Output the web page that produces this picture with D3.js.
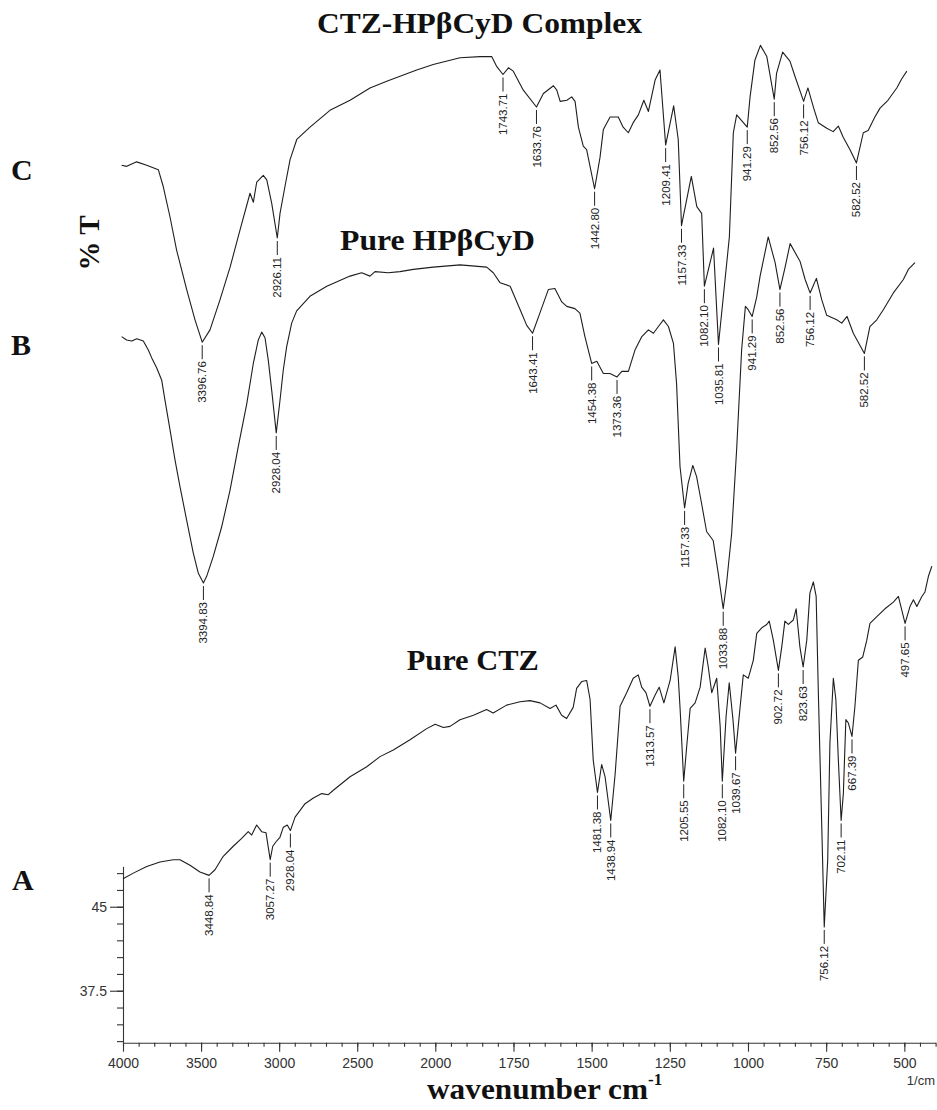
<!DOCTYPE html>
<html>
<head>
<meta charset="utf-8">
<script src="https://cdn.jsdelivr.net/npm/d3@7"></script>
<style>
  body { margin: 0; background: #fff; }
  svg { display: block; }
</style>
</head>
<body>
<svg id="chart" width="937" height="1110"></svg>
<script>
// FTIR spectra: [wavenumber (cm-1), %T] pairs, listed from high to low wavenumber.
const complexSpectrum = [
  [3902,51.2],[3870,51.1],[3808,51.5],[3745,51.2],[3672,50.8],[3641,49.3],[3599,46.6],[3557,43.6],
  [3494,40.1],[3442,37.4],[3396.76,35.4],[3348,36.5],[3285,39.2],[3222,42.1],[3160,45.4],[3097,48.7],
  [3076,47.9],[3055,49.7],[3014,50.3],[2992,49.9],[2961,47.8],[2926.11,44.7],[2909,46.9],[2878,49.3],
  [2846,51.7],[2804,53.5],[2721,54.6],[2596,56.1],[2470,57.0],[2345,58.1],[2240,58.7],[2052,59.7],
  [1973,60.2],[1885,60.8],[1819,60.9],[1781,60.9],[1764,60.0],[1743.71,59.3],[1726,59.9],[1710,59.6],
  [1677,57.9],[1633.76,56.4],[1611,57.6],[1578,58.3],[1567,57.9],[1556,56.9],[1534,57.0],[1518,57.3],
  [1507,56.9],[1496,54.6],[1480,52.9],[1469,52.6],[1442.80,49.1],[1425,51.9],[1414,54.4],[1392,55.5],
  [1365,55.5],[1349,54.6],[1332,54.1],[1316,55.0],[1299,55.7],[1281,57.0],[1266,56.0],[1244,58.8],
  [1228,59.7],[1209.41,53.0],[1183,56.5],[1168,53.5],[1157.33,45.8],[1125,50.2],[1107,47.5],[1091,46.9],
  [1082.10,40.4],[1052,43.8],[1035.81,35.2],[1000,44.8],[987,54.1],[976,55.7],[941.29,54.6],[932,57.3],
  [916,60.6],[898,61.9],[877,60.9],[852.56,57.1],[845,59.4],[825,61.3],[801,60.5],[784,59.1],
  [756.12,56.9],[742,58.1],[723,56.3],[708,55.0],[680,54.5],[659,54.2],[642,54.7],[626,53.7],
  [604,52.6],[582.52,51.4],[560,54.1],[544,54.3],[522,55.5],[505,56.3],[479,57.0],[450,58.1],
  [434,58.9],[417,59.6]
];

const hpbcydSpectrum = [
  [3919,60.9],[3887,60.6],[3854,60.5],[3822,60.7],[3780,60.5],[3748,59.7],[3726,59.0],[3694,58.1],
  [3662,57.0],[3641,55.2],[3609,52.6],[3577,49.9],[3545,47.5],[3502,44.5],[3460,41.6],[3428,39.8],
  [3394.83,38.9],[3374,39.5],[3331,41.3],[3278,43.9],[3224,47.2],[3171,51.1],[3117,54.9],[3075,58.5],
  [3043,60.6],[3021,61.3],[3000,60.8],[2979,58.8],[2957,56.1],[2928.04,52.3],[2904,55.2],[2883,57.9],
  [2861,60.0],[2829,62.1],[2797,63.2],[2712,64.5],[2604,65.4],[2455,66.3],[2380,66.6],[2327,66.3],
  [2295,66.7],[2210,66.6],[2135,66.7],[2049,66.9],[1961,67.1],[1875,67.3],[1790,67.1],[1769,66.6],
  [1747,65.7],[1715,65.4],[1683,63.3],[1662,61.9],[1643.41,61.2],[1620,63.0],[1593,65.1],[1572,65.2],
  [1550,64.0],[1534,63.6],[1508,63.4],[1492,63.0],[1476,60.9],[1454.38,58.5],[1438,58.7],[1417,57.6],
  [1396,57.6],[1373.36,57.3],[1358,57.8],[1337,57.8],[1316,59.7],[1294,60.9],[1273,61.5],[1257,61.2],
  [1241,61.8],[1225,62.4],[1209,61.8],[1193,60.3],[1183,56.7],[1172,49.3],[1157.33,45.6],[1146,47.8],
  [1131,49.4],[1119,48.4],[1103,46.0],[1087,43.5],[1066,42.7],[1050,39.8],[1033.88,36.6],[1023,38.9],
  [1007,43.3],[991,50.8],[975,59.7],[963,63.6],[954,63.3],[941.29,62.7],[927,64.4],[916,66.3],
  [890,69.8],[868,67.5],[852.56,65.1],[836,67.1],[820,69.2],[788,67.6],[772,66.0],[756.12,64.8],
  [736,66.1],[719,64.2],[703,62.8],[671,62.4],[655,62.1],[638,62.7],[618,61.2],[582.52,59.4],
  [565,61.8],[543,62.4],[522,63.3],[490,64.8],[458,66.0],[442,66.9],[421,67.5]
];

const ctzSpectrum = [
  [4000,47.5],[3934,48.0],[3848,48.6],[3763,49.0],[3678,49.2],[3635,49.2],[3571,48.7],[3507,48.1],
  [3448.84,47.8],[3411,48.3],[3358,49.5],[3294,50.4],[3240,51.1],[3198,51.7],[3176,51.4],[3144,52.3],
  [3112,51.7],[3084,51.6],[3057.27,49.2],[3041,50.4],[3020,50.8],[2995,51.2],[2973,52.1],[2948,52.3],
  [2928.04,51.8],[2898,53.0],[2866,53.6],[2834,54.2],[2781,54.7],[2727,55.1],[2685,55.0],[2653,55.4],
  [2546,56.6],[2439,57.5],[2354,58.4],[2269,59.0],[2162,59.9],[2055,60.9],[2001,61.3],[1974,61.0],
  [1953,61.1],[1921,61.7],[1878,62.1],[1836,62.6],[1815,62.3],[1772,63.0],[1729,63.3],[1697,63.4],
  [1665,63.2],[1633,62.7],[1614,63.0],[1596,62.1],[1580,61.8],[1559,62.8],[1548,64.5],[1532,65.1],
  [1516,65.2],[1505,63.5],[1495,58.1],[1481.38,55.2],[1468,57.7],[1457,56.6],[1438.94,52.7],[1425,56.8],
  [1409,62.9],[1388,64.1],[1367,65.4],[1351,65.7],[1340,64.6],[1326,64.1],[1313.57,62.9],[1297,63.9],
  [1284,64.6],[1269,63.2],[1249,65.2],[1233,68.2],[1223,65.5],[1217,62.6],[1205.55,56.2],[1196,59.3],
  [1185,62.7],[1169,63.2],[1153,64.6],[1137,68.1],[1127,66.4],[1116,64.1],[1100,65.4],[1089,61.1],
  [1082.10,56.2],[1070,62.0],[1060,65.0],[1048,61.7],[1039.67,58.7],[1026,62.6],[1015,65.7],[999,65.4],
  [983,67.0],[972,69.4],[956,69.9],[940,70.2],[932,70.5],[919,68.8],[902.72,66.1],[892,68.2],
  [882,70.5],[871,70.2],[855,70.6],[846,71.6],[834,68.2],[823.63,66.4],[812,68.8],[802,73.0],
  [791,74.0],[782,72.7],[775,64.1],[764,52.1],[756.12,43.2],[745,49.2],[738,59.6],[727,65.4],
  [719,63.5],[711,58.1],[702.11,52.7],[695,55.1],[687,61.7],[679,61.4],[667.39,60.2],[658,62.9],
  [647,67.0],[633,67.3],[620,68.8],[610,70.3],[588,70.9],[562,71.6],[535,72.2],[519,72.7],
  [497.65,70.3],[482,71.8],[471,72.4],[460,71.8],[444,72.7],[434,73.1],[423,74.5],[412,75.4]
];

// Labelled band positions (cm-1)
const complexPeaks = [3396.76, 2926.11, 1743.71, 1633.76, 1442.80, 1209.41, 1157.33, 1082.10, 1035.81, 941.29, 852.56, 756.12, 582.52];
const hpbcydPeaks  = [3394.83, 2928.04, 1643.41, 1454.38, 1373.36, 1157.33, 1033.88, 941.29, 852.56, 756.12, 582.52];
const ctzPeaks     = [3448.84, 3057.27, 2928.04, 1481.38, 1438.94, 1313.57, 1205.55, 1082.10, 1039.67, 902.72, 823.63, 756.12, 702.11, 667.39, 497.65];

// Vertical stacking offsets (%T units) for the upper traces
const complexOffset = 60;
const hpbcydOffset = 35;

// Axis ticks
const xTickLabels = [4000, 3500, 3000, 2500, 2000, 1750, 1500, 1250, 1000, 750, 500];
const yTickLabels = [45, 37.5];

const svg = d3.select("#chart");
const serif = "'Liberation Serif', 'Times New Roman', serif";
const sans = "'Liberation Sans', Arial, sans-serif";

// Wavenumber axis is compressed by half above 2000 cm-1
const xCtz     = d3.scaleLinear().domain([4000, 2000, 400]).range([123, 435.3, 935.6]);
const xHpbcyd  = d3.scaleLinear().domain([4000, 2000, 400]).range([109, 421, 921.5]);
const xComplex = d3.scaleLinear().domain([4000, 2000, 400]).range([106, 425, 912]);
const y = d3.scaleLinear().domain([32.86, 48.6]).range([1042.7, 866.4]);

// ---- axes ----
const minorX = d3.range(4000, 2000, -100).concat(d3.range(2000, 399, -50));
const axisColor = "#333";

const gx = svg.append("g").attr("transform", `translate(0,${y.range()[0]})`);
gx.call(d3.axisBottom(xCtz).tickValues(minorX).tickSize(4).tickSizeOuter(0).tickFormat(""));
const gxMajor = svg.append("g").attr("transform", `translate(0,${y.range()[0]})`);
gxMajor.call(d3.axisBottom(xCtz).tickValues(xTickLabels).tickSize(9).tickSizeOuter(0).tickPadding(6).tickFormat(d3.format("d")));
gxMajor.select(".domain").remove();

const gy = svg.append("g").attr("transform", `translate(${xCtz(4000)},0)`);
gy.call(d3.axisLeft(y).tickValues(d3.range(33, 48.1, 1.5)).tickSize(6).tickSizeOuter(0).tickFormat(""));
const gyMajor = svg.append("g").attr("transform", `translate(${xCtz(4000)},0)`);
gyMajor.call(d3.axisLeft(y).tickValues(yTickLabels).tickSize(13).tickSizeOuter(0).tickPadding(3).tickFormat(d => String(d)));
gyMajor.select(".domain").remove();

svg.selectAll(".domain, .tick line").attr("stroke", axisColor).attr("stroke-width", 1.1);
svg.selectAll(".tick text").attr("fill", "#333").style("font-family", sans).style("font-size", "14px");

svg.append("text")
  .attr("x", 935).attr("y", 1085).attr("text-anchor", "end")
  .style("font-family", sans).style("font-size", "13px").attr("fill", "#333")
  .text("1/cm");

// ---- spectra ----
const traces = [
  { data: complexSpectrum, peaks: complexPeaks, x: xComplex, offset: complexOffset },
  { data: hpbcydSpectrum,  peaks: hpbcydPeaks,  x: xHpbcyd,  offset: hpbcydOffset },
  { data: ctzSpectrum,     peaks: ctzPeaks,     x: xCtz,     offset: 0 }
];

traces.forEach(t => {
  const line = d3.line().x(d => t.x(d[0])).y(d => y(d[1] + t.offset));
  svg.append("path")
    .datum(t.data)
    .attr("d", line)
    .attr("fill", "none")
    .attr("stroke", "#1e1e1e")
    .attr("stroke-width", 1.1)
    .attr("stroke-linejoin", "round");

  const labels = svg.append("g");
  t.peaks.forEach(p => {
    const pt = t.data.find(d => d[0] === p);
    const px = t.x(p);
    const py = y(pt[1] + t.offset);
    labels.append("line")
      .attr("x1", px).attr("x2", px)
      .attr("y1", py + 3).attr("y2", py + 17)
      .attr("stroke", "#222").attr("stroke-width", 1);
    labels.append("text")
      .attr("transform", `translate(${px},${py + 19}) rotate(-90)`)
      .attr("text-anchor", "end")
      .attr("dy", "0.35em")
      .style("font-family", sans)
      .style("font-size", "11.5px")
      .attr("fill", "#222")
      .text(p.toFixed(2));
  });
});

// ---- titles and annotations ----
function boldText(txt, x, y0, size, len) {
  const t = svg.append("text")
    .attr("x", x).attr("y", y0)
    .style("font-family", serif).style("font-weight", "bold")
    .style("font-size", size + "px").attr("fill", "#111")
    .text(txt);
  if (len) t.attr("textLength", len).attr("lengthAdjust", "spacingAndGlyphs");
  return t;
}

boldText("CTZ-HPβCyD Complex", 317, 33, 29, 325);
boldText("Pure HPβCyD", 340, 250, 29, 195);
boldText("Pure CTZ", 406.7, 670, 29, 132);

boldText("C", 11, 180, 30);
boldText("B", 11, 355, 30);
boldText("A", 12, 890, 30);

svg.append("text")
  .attr("transform", "translate(99,243) rotate(-90)")
  .attr("text-anchor", "middle")
  .style("font-family", serif).style("font-weight", "bold")
  .style("font-size", "29px").attr("fill", "#111")
  .text("% T");

const xt = svg.append("text")
  .attr("x", 427).attr("y", 1099)
  .style("font-family", serif).style("font-weight", "bold")
  .style("font-size", "29px").attr("fill", "#111");
xt.append("tspan").attr("textLength", 221).attr("lengthAdjust", "spacingAndGlyphs").text("wavenumber cm");
xt.append("tspan").attr("dy", -14).style("font-size", "17px").text("-1");
</script>
</body>
</html>
